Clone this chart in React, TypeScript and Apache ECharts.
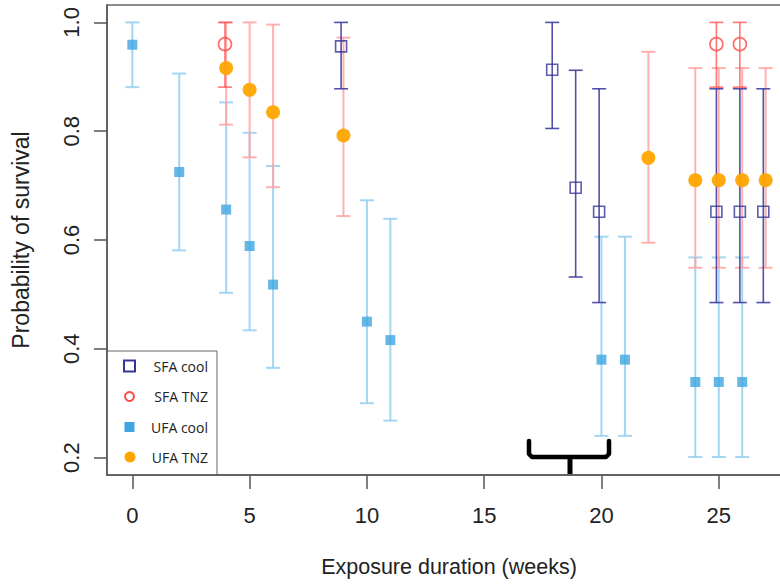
import React, { useEffect, useRef } from "react";
import * as echarts from "echarts";

// ---- data ----
const weeksUfaCool = [0, 2, 4, 5, 6, 10, 11, 20, 21, 24, 25, 26];
const survUfaCool = [0.959, 0.725, 0.656, 0.589, 0.518, 0.45, 0.416, 0.38, 0.38, 0.339, 0.339, 0.339];
const lowUfaCool = [0.881, 0.581, 0.503, 0.434, 0.365, 0.3, 0.268, 0.24, 0.24, 0.201, 0.201, 0.201];
const highUfaCool = [1.0, 0.906, 0.853, 0.797, 0.736, 0.673, 0.639, 0.606, 0.606, 0.568, 0.568, 0.568];

const weeksSfaCool = [8.9, 17.9, 18.9, 19.9, 24.9, 25.9, 26.9];
const survSfaCool = [0.956, 0.913, 0.696, 0.652, 0.652, 0.652, 0.652];
const lowSfaCool = [0.878, 0.805, 0.532, 0.485, 0.485, 0.485, 0.485];
const highSfaCool = [1.0, 1.0, 0.912, 0.878, 0.878, 0.878, 0.878];

const weeksSfaTnz = [3.95, 24.9, 25.9];
const survSfaTnz = [0.96, 0.96, 0.96];
const lowSfaTnz = [0.881, 0.881, 0.881];
const highSfaTnz = [1.0, 1.0, 1.0];

const weeksUfaTnz = [4, 5, 6, 9, 22, 24, 25, 26, 27];
const survUfaTnz = [0.916, 0.876, 0.835, 0.792, 0.751, 0.71, 0.71, 0.71, 0.71];
const lowUfaTnz = [0.812, 0.752, 0.697, 0.644, 0.595, 0.549, 0.549, 0.549, 0.549];
const highUfaTnz = [1.0, 1.0, 0.996, 0.972, 0.946, 0.916, 0.916, 0.916, 0.916];

const xTicks = [0, 5, 10, 15, 20, 25];
const yTicks = [0.2, 0.4, 0.6, 0.8, 1.0];
const legendNames = ["SFA cool", "SFA TNZ", "UFA cool", "UFA TNZ"];

const AXIS_FONT = "'Liberation Sans', Arial, sans-serif";
const LEGEND_FONT = "'Open Sans', 'Noto Sans', sans-serif";

const C_NAVY = "#34349a";
const C_RED = "#ff4a4a";
const C_BLUE = "#3ea6e0";
const C_BLUE_BAR = "#9ad0f2";
const C_ORANGE = "#ffa500";
const C_PINK_BAR = "#ffa3a3";

function errorSeries(name: string, xs: number[], lo: number[], hi: number[], color: string, width: number, opacity: number) {
  return {
    type: "custom",
    name: name + " CI",
    data: xs.map((x, i) => [x, lo[i], hi[i]]),
    encode: { x: 0, y: [1, 2] },
    silent: true,
    renderItem: (params: any, api: any) => {
      const x = api.value(0);
      const p1 = api.coord([x, api.value(2)]);
      const p2 = api.coord([x, api.value(1)]);
      const style = { stroke: color, lineWidth: width, opacity };
      const cap = 7;
      return {
        type: "group",
        children: [
          { type: "line", shape: { x1: p1[0], y1: p1[1], x2: p2[0], y2: p2[1] }, style },
          { type: "line", shape: { x1: p1[0] - cap, y1: p1[1], x2: p1[0] + cap, y2: p1[1] }, style },
          { type: "line", shape: { x1: p2[0] - cap, y1: p2[1], x2: p2[0] + cap, y2: p2[1] }, style },
        ],
      };
    },
  };
}

export default function App() {
  const ref = useRef<HTMLDivElement>(null);
  useEffect(() => {
    const chart = echarts.init(ref.current!, null, { renderer: "svg" });
    const legendTop = 351;
    const legendRows = [366, 396.5, 427, 457];
    const option: any = {
      animation: false,
      backgroundColor: "#ffffff",
      grid: {
        left: 107,
        top: 5,
        width: 684,
        height: 470,
        show: true,
        borderColor: "#666",
        borderWidth: 1.5,
        backgroundColor: "transparent",
        containLabel: false,
        outerBoundsMode: "none",
      },
      xAxis: {
        type: "value",
        min: -1.08,
        max: 28.08,
        name: "Exposure duration (weeks)",
        nameLocation: "middle",
        nameGap: 81,
        nameMoveOverlap: false,
        nameTextStyle: { fontFamily: AXIS_FONT, fontSize: 21.5, color: "#222" },
        axisLine: { show: true, onZero: false, lineStyle: { color: "#555", width: 1.5 } },
        axisTick: { show: true, customValues: xTicks, length: 14, lineStyle: { color: "#555", width: 1.5 } },
        axisLabel: { customValues: xTicks, fontFamily: AXIS_FONT, fontSize: 22, color: "#222", margin: 29 },
        splitLine: { show: false },
      },
      yAxis: {
        type: "value",
        min: 0.168,
        max: 1.032,
        name: "Probability of survival",
        nameLocation: "middle",
        nameGap: 75,
        nameMoveOverlap: false,
        nameTextStyle: { fontFamily: AXIS_FONT, fontSize: 23, color: "#222" },
        axisLine: { show: true, onZero: false, lineStyle: { color: "#555", width: 1.5 } },
        axisTick: { show: true, customValues: yTicks, length: 13, lineStyle: { color: "#555", width: 1.5 } },
        axisLabel: {
          customValues: yTicks,
          rotate: 90,
          fontFamily: AXIS_FONT,
          fontSize: 22,
          color: "#222",
          margin: 25,
          formatter: (v: number) => v.toFixed(1),
        },
        splitLine: { show: false },
      },
      series: [
        errorSeries("UFA cool", weeksUfaCool, lowUfaCool, highUfaCool, C_BLUE_BAR, 2, 0.9),
        errorSeries("UFA TNZ", weeksUfaTnz, lowUfaTnz, highUfaTnz, C_PINK_BAR, 2, 0.85),
        errorSeries("SFA cool", weeksSfaCool, lowSfaCool, highSfaCool, C_NAVY, 1.6, 0.85),
        errorSeries("SFA TNZ", weeksSfaTnz, lowSfaTnz, highSfaTnz, C_RED, 1.6, 0.75),
        {
          type: "scatter",
          name: "UFA cool",
          data: weeksUfaCool.map((x, i) => [x, survUfaCool[i]]),
          symbol: "rect",
          symbolSize: 10,
          itemStyle: { color: C_BLUE },
          z: 5,
        },
        {
          type: "scatter",
          name: "UFA TNZ",
          data: weeksUfaTnz.map((x, i) => [x, survUfaTnz[i]]),
          symbol: "circle",
          symbolSize: 14,
          itemStyle: { color: C_ORANGE, opacity: 0.95 },
          z: 5,
        },
        {
          type: "scatter",
          name: "SFA cool",
          data: weeksSfaCool.map((x, i) => [x, survSfaCool[i]]),
          symbol: "rect",
          symbolSize: 11,
          itemStyle: { color: "transparent", borderColor: C_NAVY, borderWidth: 1.6 },
          z: 6,
        },
        {
          type: "scatter",
          name: "SFA TNZ",
          data: weeksSfaTnz.map((x, i) => [x, survSfaTnz[i]]),
          symbol: "circle",
          symbolSize: 13,
          itemStyle: { color: "transparent", borderColor: C_RED, borderWidth: 1.6 },
          z: 6,
        },
      ],
      graphic: [
        {
          type: "polyline",
          z: 100,
          shape: { points: [[529, 441], [529, 454], [532, 457], [606, 457], [609, 454], [609, 441]] },
          style: { stroke: "#000", lineWidth: 4.5, fill: "none", lineJoin: "round", lineCap: "round" },
        },
        {
          type: "line",
          z: 100,
          shape: { x1: 570, y1: 457, x2: 570, y2: 474 },
          style: { stroke: "#000", lineWidth: 5 },
        },
        {
          type: "group",
          z: 100,
          children: [
            {
              type: "rect",
              shape: { x: 107, y: legendTop, width: 110, height: 124 },
              style: { fill: "#fff", stroke: "#666", lineWidth: 1 },
            },
            {
              type: "rect",
              shape: { x: 124, y: legendRows[0] - 5.5, width: 11, height: 11 },
              style: { fill: "none", stroke: C_NAVY, lineWidth: 2 },
            },
            {
              type: "circle",
              shape: { cx: 129.5, cy: legendRows[1], r: 4.5 },
              style: { fill: "none", stroke: C_RED, lineWidth: 2 },
            },
            {
              type: "rect",
              shape: { x: 124.5, y: legendRows[2] - 5, width: 10, height: 10 },
              style: { fill: C_BLUE },
            },
            {
              type: "circle",
              shape: { cx: 130, cy: legendRows[3], r: 5.5 },
              style: { fill: C_ORANGE },
            },
            ...legendNames.map((t, i) => ({
              type: "text",
              x: 208,
              y: legendRows[i],
              style: {
                text: t,
                align: "right",
                verticalAlign: "middle",
                fontFamily: LEGEND_FONT,
                fontSize: 14,
                fill: "#222",
              },
            })),
          ],
        },
      ],
    };
    chart.setOption(option);
    return () => chart.dispose();
  }, []);
  return <div ref={ref} style={{ position: "absolute", left: 0, top: 0, width: 780, height: 585 }} />;
}
